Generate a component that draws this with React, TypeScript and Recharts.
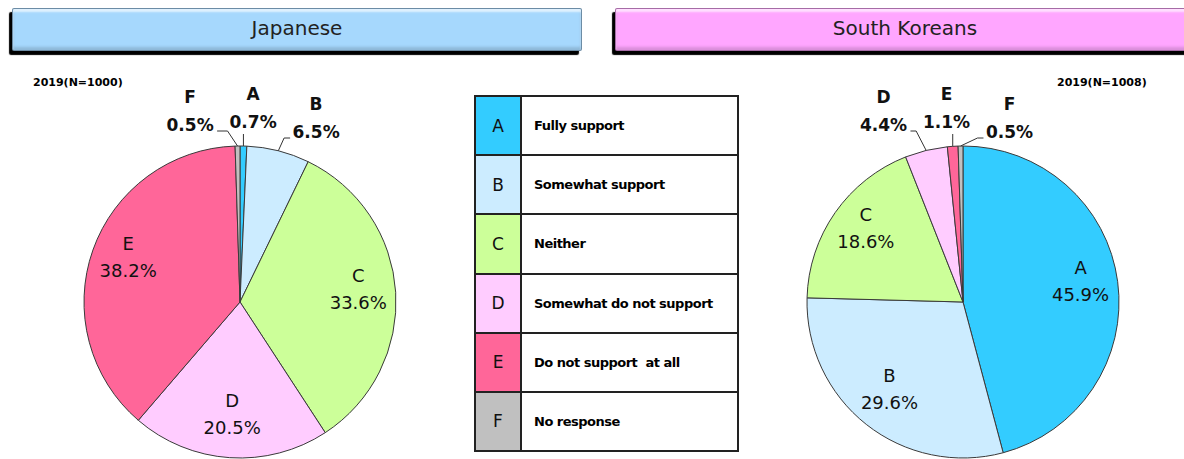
import React from 'react';
import { PieChart, Pie, Cell } from 'recharts';

const categories = ['A', 'B', 'C', 'D', 'E', 'F'];
const descriptions = [
  'Fully support',
  'Somewhat support',
  'Neither',
  'Somewhat do not support',
  'Do not support  at all',
  'No response',
];
const japanValues = [0.7, 6.5, 33.6, 20.5, 38.2, 0.5];
const koreaValues = [45.9, 29.6, 18.6, 4.4, 1.1, 0.5];
const japanNote = '2019(N=1000)';
const koreaNote = '2019(N=1008)';

const COLORS = ['#33CCFF', '#CCECFF', '#CCFF99', '#FFCCFF', '#FF6699', '#C0C0C0'];
const FONT = '"DejaVu Sans", sans-serif';

const R = 156;
const CY = 302;

// label renderer: large slices get an inside label, small ones go above the pie with a leader line
function makeLabel(values: number[], cx: number, cy: number, r: number) {
  const total = values.reduce((a, b) => a + b, 0);
  let cum = 0;
  const mids = values.map((v) => {
    const m = ((cum + v / 2) / total) * 2 * Math.PI;
    cum += v;
    return m;
  });
  const small = values.map((v, i) => i).filter((i) => values[i] < 7);
  const edges: Record<number, { ex: number; ey: number }> = {};
  small.forEach((i) => {
    edges[i] = { ex: cx + r * Math.sin(mids[i]), ey: cy - r * Math.cos(mids[i]) };
  });
  const order = [...small].sort((a, b) => edges[a].ex - edges[b].ex);
  const meanX = order.reduce((s, i) => s + edges[i].ex, 0) / (order.length || 1);
  const place: Record<number, { lx: number; py: number }> = {};
  order.forEach((i, k) => {
    const n = order.length;
    const lx = meanX + (k - (n - 1) / 2) * 63;
    const py = cy - 180 + (k === 0 ? 3 : k === n - 1 ? 10 : 0);
    place[i] = { lx, py };
  });

  return (props: any) => {
    const i = props.index;
    const pct = values[i].toFixed(1) + '%';
    if (values[i] >= 7) {
      const x = cx + r * 0.76 * Math.sin(mids[i]);
      const y = cy - r * 0.76 * Math.cos(mids[i]) - 6;
      return (
        <g key={`lbl-${i}`}>
          <text x={x} y={y - 13.5} textAnchor="middle" dominantBaseline="central" fontFamily={FONT} fontSize={18} fill="#111">
            {categories[i]}
          </text>
          <text x={x} y={y + 13.5} textAnchor="middle" dominantBaseline="central" fontFamily={FONT} fontSize={18} fill="#111">
            {pct}
          </text>
        </g>
      );
    }
    const { ex, ey } = edges[i];
    const { lx, py } = place[i];
    const half = 24;
    let pts: string;
    if (lx < ex - 25) {
      pts = `${lx + half + 3},${py + 6} ${ex - 10},${py + 6} ${ex},${ey}`;
    } else if (lx > ex + 25) {
      pts = `${lx - half - 2},${py + 6} ${lx - half - 8},${py + 6} ${ex},${ey}`;
    } else {
      pts = `${ex},${py + 12} ${ex},${ey}`;
    }
    return (
      <g key={`lbl-${i}`}>
        <polyline points={pts} fill="none" stroke="#333" strokeWidth={1} />
        <text x={lx} y={py - 28} textAnchor="middle" dominantBaseline="central" fontFamily={FONT} fontWeight="bold" fontSize={17} fill="#111">
          {categories[i]}
        </text>
        <text x={lx} y={py} textAnchor="middle" dominantBaseline="central" fontFamily={FONT} fontWeight="bold" fontSize={17} fill="#111">
          {pct}
        </text>
      </g>
    );
  };
}

function Header({ left, width, color, text }: { left: number; width: number; color: string; text: string }) {
  return (
    <div
      style={{
        position: 'absolute',
        left,
        top: 8,
        width,
        height: 43,
        background: color,
        border: '1px solid rgba(0,0,0,0.35)',
        boxShadow: '-3px 4px 1px #000, inset 0 3px 2px rgba(255,255,255,0.65), inset 0 -3px 3px rgba(0,0,0,0.15)',
        borderRadius: 2,
        display: 'flex',
        alignItems: 'center',
        justifyContent: 'center',
        paddingBottom: 3,
        fontFamily: FONT,
        fontSize: 20,
        color: '#222',
        boxSizing: 'border-box',
      }}
    >
      {text}
    </div>
  );
}

export default function App() {
  const japanData = categories.map((c, i) => ({ name: c, value: japanValues[i] }));
  const koreaData = categories.map((c, i) => ({ name: c, value: koreaValues[i] }));

  return (
    <div style={{ position: 'absolute', left: 0, top: 0, width: 1184, height: 459, background: '#fff', overflow: 'hidden' }}>
      <Header left={12} width={570} color="#A6D8FD" text="Japanese" />
      <Header left={615} width={580} color="#FFA6FF" text="South Koreans" />

      <div style={{ position: 'absolute', left: 33, top: 76, fontFamily: FONT, fontWeight: 'bold', fontSize: 11 }}>{japanNote}</div>
      <div style={{ position: 'absolute', left: 1057, top: 76, fontFamily: FONT, fontWeight: 'bold', fontSize: 11 }}>{koreaNote}</div>

      <div style={{ position: 'absolute', left: 0, top: 0 }}>
        <PieChart width={1184} height={459} margin={{ top: 0, right: 0, bottom: 0, left: 0 }}>
          <Pie
            data={japanData}
            dataKey="value"
            cx={240}
            cy={CY}
            outerRadius={R}
            startAngle={90}
            endAngle={-270}
            stroke="#3a3a3a"
            strokeWidth={1}
            isAnimationActive={false}
            labelLine={false}
            label={makeLabel(japanValues, 240, CY, R)}
          >
            {japanData.map((entry, index) => (
              <Cell key={`j-${index}`} fill={COLORS[index]} />
            ))}
          </Pie>
          <Pie
            data={koreaData}
            dataKey="value"
            cx={963}
            cy={CY}
            outerRadius={R}
            startAngle={90}
            endAngle={-270}
            stroke="#3a3a3a"
            strokeWidth={1}
            isAnimationActive={false}
            labelLine={false}
            label={makeLabel(koreaValues, 963, CY, R)}
          >
            {koreaData.map((entry, index) => (
              <Cell key={`k-${index}`} fill={COLORS[index]} />
            ))}
          </Pie>
        </PieChart>
      </div>

      <div
        style={{
          position: 'absolute',
          left: 474,
          top: 95,
          width: 265,
          height: 357,
          border: '2px solid #222',
          boxSizing: 'border-box',
          display: 'flex',
          flexDirection: 'column',
          background: '#fff',
        }}
      >
        {categories.map((c, i) => (
          <div key={c} style={{ flex: 1, display: 'flex', borderTop: i === 0 ? 'none' : '2px solid #222' }}>
            <div
              style={{
                width: 44,
                background: COLORS[i],
                borderRight: '2px solid #222',
                display: 'flex',
                alignItems: 'center',
                justifyContent: 'center',
                fontFamily: FONT,
                fontSize: 17,
                color: '#111',
              }}
            >
              {c}
            </div>
            <div
              style={{
                display: 'flex',
                alignItems: 'center',
                paddingLeft: 12,
                fontFamily: FONT,
                fontWeight: 'bold',
                fontSize: 13,
                letterSpacing: -0.5,
                whiteSpace: 'pre',
                color: '#000',
              }}
            >
              {descriptions[i]}
            </div>
          </div>
        ))}
      </div>
    </div>
  );
}
